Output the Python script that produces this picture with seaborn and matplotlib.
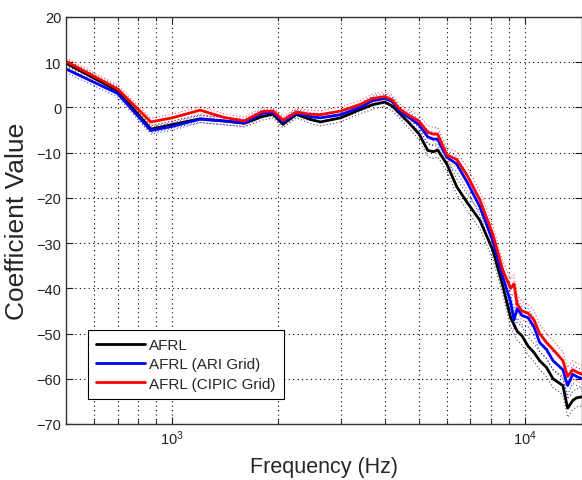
import numpy as np
import pandas as pd
import matplotlib
matplotlib.use("Agg")
import matplotlib.pyplot as plt
import seaborn as sns
from matplotlib.ticker import LogLocator, NullFormatter, MultipleLocator

# ---------------- data ----------------
freq = [500, 700, 870, 1000, 1200, 1400, 1600, 1800, 1930, 2060, 2250, 2450, 2630,
        3000, 3400, 3700, 4000, 4200, 4400, 4700, 5000, 5300, 5500, 5650, 6000,
        6400, 6850, 7450, 8100, 8650, 9100, 9300, 9500, 9800, 10200, 10600, 11000,
        11500, 12000, 12800, 13200, 13650, 14000, 14500]

afrl = [9.8, 3.7, -4.8, -3.8, -2.5, -3.0, -3.5, -2.0, -1.5, -3.7, -1.5, -2.6, -3.2,
        -2.3, -0.5, 0.6, 1.2, 0.3, -1.2, -3.5, -5.8, -9.5, -9.8, -9.4, -12.5,
        -17.5, -21.0, -25.0, -31.5, -39.5, -46.5, -48.0, -49.5, -50.5, -52.8, -54.2,
        -56.0, -57.5, -60.0, -61.5, -66.5, -64.8, -64.2, -64.0]

afrl_ari = [8.5, 3.1, -5.1, -4.2, -2.6, -3.0, -3.4, -1.3, -1.1, -3.2, -1.2, -2.0, -2.3,
            -1.6, 0.0, 1.5, 2.0, 1.3, -0.8, -2.3, -3.8, -6.5, -7.0, -7.0, -11.0,
            -12.5, -16.5, -22.0, -29.5, -37.5, -43.0, -47.0, -44.5, -46.0, -46.5, -48.5,
            -52.0, -53.5, -56.0, -58.0, -61.5, -59.0, -59.5, -60.0]

afrl_cipic = [10.2, 4.1, -3.2, -2.3, -0.6, -2.2, -3.0, -0.9, -0.8, -2.8, -1.0, -1.5, -1.6,
              -0.8, 0.6, 2.0, 2.4, 1.7, -0.3, -1.8, -3.0, -5.5, -5.9, -5.9, -10.5,
              -11.5, -15.0, -20.5, -28.0, -36.0, -40.0, -39.0, -43.5, -45.0, -45.5, -47.0,
              -50.0, -52.0, -53.5, -56.0, -59.5, -58.0, -58.5, -59.0]

# half-width of the dotted bounds around each curve
spread = [0.8, 0.8, 0.8, 0.8, 0.8, 0.8, 0.8, 0.8, 0.8, 0.8, 0.8, 0.9, 0.9,
          0.9, 0.9, 1.0, 1.0, 1.0, 1.1, 1.2, 1.3, 1.4, 1.5, 1.5, 1.6,
          1.7, 1.8, 1.9, 2.0, 2.0, 2.0, 2.0, 2.0, 2.0, 2.0, 2.0, 2.0,
          2.0, 2.0, 2.0, 2.0, 2.0, 2.0, 2.0]

series_names = ["AFRL", "AFRL (ARI Grid)", "AFRL (CIPIC Grid)"]
series_values = [afrl, afrl_ari, afrl_cipic]
colors = {"AFRL": "#000000", "AFRL (ARI Grid)": "#0000ff", "AFRL (CIPIC Grid)": "#ff0000"}

rows = []
for name, vals in zip(series_names, series_values):
    for f, v, s in zip(freq, vals, spread):
        rows.append({"Frequency": f, "Value": v, "Upper": v + s, "Lower": v - s, "Series": name})
df = pd.DataFrame(rows)

# ---------------- style ----------------
sns.set_theme(style="ticks")
plt.rcParams["font.family"] = ["Liberation Sans", "DejaVu Sans"]
plt.rcParams["xtick.direction"] = "in"
plt.rcParams["ytick.direction"] = "in"

fig = plt.figure(figsize=(5.82, 4.81), dpi=100)
W, H = 582, 481
left, right, top, bottom = 66, 582, 18, 425
ax = fig.add_axes([left / W, 1 - bottom / H, (right - left) / W, (bottom - top) / H])

for col in ["Upper", "Lower"]:
    sns.lineplot(data=df, x="Frequency", y=col, hue="Series", palette=colors,
                 hue_order=series_names, estimator=None, sort=False, legend=False,
                 lw=0.8, linestyle=(0, (1, 2)), alpha=0.7, ax=ax)

sns.lineplot(data=df, x="Frequency", y="Value", hue="Series", palette=colors,
             hue_order=series_names, estimator=None, sort=False, lw=2, ax=ax)

ax.set_xscale("log")
ax.set_xlim(500, 14500)
ax.set_ylim(-70, 20)
ax.yaxis.set_major_locator(MultipleLocator(10))
ax.xaxis.set_major_locator(LogLocator(base=10, numticks=10))
ax.xaxis.set_minor_locator(LogLocator(base=10, subs=np.arange(2, 10), numticks=20))
ax.xaxis.set_minor_formatter(NullFormatter())

ax.grid(True, which="major", axis="both", color="black", linestyle=(0, (1, 3)), lw=0.8)
ax.grid(True, which="minor", axis="x", color="black", linestyle=(0, (1, 3)), lw=0.8)

for sp in ax.spines.values():
    sp.set_color("#333333")
    sp.set_linewidth(1.0)

ax.tick_params(which="major", length=5, width=0.8, labelsize=10.5, colors="#222222",
               top=True, right=True)
ax.tick_params(which="minor", length=3, width=0.8, top=True)

ax.set_xlabel("Frequency (Hz)", fontsize=15.5, labelpad=6)
ax.set_ylabel("Coefficient Value", fontsize=19, labelpad=5)

handles, labels = ax.get_legend_handles_labels()
leg = ax.legend(handles, labels, loc="lower left", bbox_to_anchor=(0.0426, 0.0614),
                borderaxespad=0, frameon=True, fancybox=False, framealpha=1,
                edgecolor="black", fontsize=11, handlelength=3.2,
                borderpad=0.55, labelspacing=0.35, handletextpad=0.25)
leg.get_frame().set_linewidth(0.8)

fig.savefig("out.png", dpi=100)
